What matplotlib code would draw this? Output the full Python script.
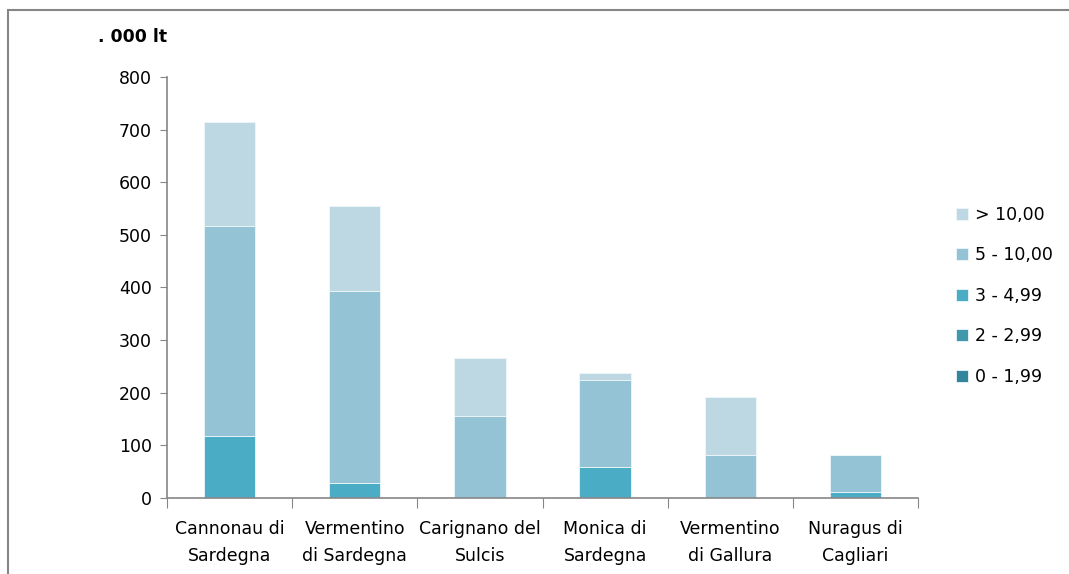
import numpy as np
import matplotlib.pyplot as plt
from matplotlib.patches import Rectangle

plt.rcParams['font.family'] = ['DejaVu Sans']

# Wine denominations and production by price class (thousand litres)
wines = ['Cannonau di\nSardegna', 'Vermentino\ndi Sardegna', 'Carignano del\nSulcis',
         'Monica di\nSardegna', 'Vermentino\ndi Gallura', 'Nuragus di\nCagliari']
classes = ['0 - 1,99', '2 - 2,99', '3 - 4,99', '5 - 10,00', '> 10,00']
v_0_199 = [0, 0, 0, 0, 0, 0]
v_2_299 = [0, 0, 0, 0, 0, 0]
v_3_499 = [118, 28, 0, 59, 0, 11]
v_5_10 = [399, 365, 156, 165, 82, 71]
v_gt10 = [198, 162, 110, 13, 110, 0]
yticks = [0, 100, 200, 300, 400, 500, 600, 700, 800]

colors = ['#31859c', '#4198ad', '#4bacc6', '#93c3d4', '#bdd8e3']
series = [v_0_199, v_2_299, v_3_499, v_5_10, v_gt10]

fig = plt.figure(figsize=(10.69, 5.74), dpi=100)
ax = fig.add_axes([0.1562, 0.1324, 0.7026, 0.7335])

x = np.arange(len(wines))
bottom = np.zeros(len(wines))
handles = []
for vals, col, lab in zip(series, colors, classes):
    bars = ax.bar(x, vals, width=0.41, bottom=bottom, color=col,
                  edgecolor='#eef6f9', linewidth=0.6, label=lab)
    handles.append(bars)
    bottom += np.array(vals)

ax.set_xlim(-0.5, len(wines) - 0.5)
ax.set_ylim(0, 800)
ax.set_yticks(yticks)
ax.tick_params(axis='y', length=5, color='#868686', labelsize=12.5, pad=6)

# boundaries as tick marks, names on minor ticks at bar centres
ax.set_xticks(np.arange(len(wines) + 1) - 0.5)
ax.set_xticklabels([])
ax.set_xticks(x, minor=True)
ax.set_xticklabels(wines, minor=True, fontsize=12.5, linespacing=1.65)
ax.tick_params(axis='x', which='major', length=7, color='#868686')
ax.tick_params(axis='x', which='minor', length=0, pad=16)

for s in ['top', 'right']:
    ax.spines[s].set_visible(False)
for s in ['left', 'bottom']:
    ax.spines[s].set_color('#868686')
    ax.spines[s].set_linewidth(1.2)

fig.text(0.092, 0.935, '. 000 lt', fontsize=12.5, fontweight='bold', va='center')

leg = ax.legend(handles[::-1], classes[::-1], loc='center left',
                bbox_to_anchor=(1.03, 0.48), frameon=False, fontsize=12.5,
                handlelength=0.7, handleheight=0.7, handletextpad=0.4,
                labelspacing=1.3)

# outer chart frame
fig.patches.append(Rectangle((8 / 1069, -0.1), 1.2, 1 - 10 / 574 + 0.1,
                             transform=fig.transFigure, fill=False,
                             edgecolor='#868686', linewidth=1.5))

fig.savefig('out.png', dpi=100)
